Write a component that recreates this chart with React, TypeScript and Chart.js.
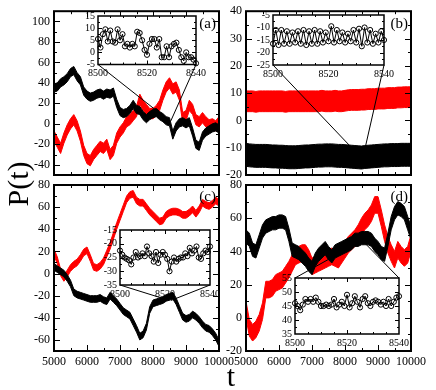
import React, { useEffect, useRef } from "react";
import { Chart, registerables } from "chart.js";
Chart.register(...registerables);

const FONT = "'Liberation Serif', 'Times New Roman', Times, serif";
const W = 436;
const H = 390;

// ---------- data ----------
const T = [
  5000, 5100, 5200, 5300, 5400, 5500, 5600, 5700, 5800, 5900,
  6000, 6100, 6200, 6300, 6400, 6500, 6600, 6700, 6800, 6900,
  7000, 7100, 7200, 7300, 7400, 7500, 7600, 7700, 7800, 7900,
  8000, 8100, 8200, 8300, 8400, 8500, 8600, 8700, 8800, 8900,
  9000, 9100, 9200, 9300, 9400, 9500, 9600, 9700, 9800, 9900, 10000,
];

const A_BLACK = [
  35, 36, 40, 42, 45, 50, 52, 46, 42, 32,
  28, 26, 27, 29, 30, 28, 30, 29, 31, 20,
  12, 10, 11, 14, 19, 14, 13, 8, 5, 8,
  10, 11, 8, 6, 3, 2, -11, -3, 1, 2,
  0, 2, -8, -20, -22, -12, -8, -6, -4, -3, -5,
];
const A_RED = [
  -12, -18, -24, -14, -6, 0, 4, -2, -12, -26,
  -34, -36, -30, -26, -22, -24, -20, -30, -26, -14,
  -8, -4, 2, 4, 8, 12, 24, 18, 14, 10,
  10, 13, 18, 28, 36, 40, 34, 36, 28, 6,
  8, 18, 14, 4, 2, 6, 2, -1, 0, -2, 2,
];
const B_RED = [
  7, 7, 7, 6.8, 7, 7, 7, 7, 7, 7,
  7, 7, 6.8, 7, 7, 7, 7, 7, 7, 7,
  7, 7, 7, 7.2, 7, 7, 7, 7.2, 7, 7,
  7.2, 7.4, 7.5, 7.5, 7.5, 7.6, 7.6, 7.8, 7.8, 7.8,
  8, 8, 8, 8.2, 8.2, 8.2, 8.4, 8.4, 8.5, 8.5, 8.5,
];
const B_BLACK = [
  -12.6, -12.8, -12.9, -13, -13, -13, -13, -13.1, -13.2, -13.2,
  -13.3, -13.3, -13.4, -13.5, -13.5, -13.5, -13.4, -13.3, -13.2, -13.2,
  -13.1, -13, -12.9, -12.9, -12.8, -12.8, -12.8, -12.9, -13, -13,
  -13.1, -13.2, -13.3, -13.4, -13.5, -13.6, -13.4, -13.3, -13.2, -13.1,
  -13, -12.9, -12.8, -12.8, -12.7, -12.7, -12.7, -12.6, -12.6, -12.6, -12.6,
];
const C_RED = [
  19, 12, 1, -4, 0, 5, 8, 10, 14, 19,
  21, 14, 6, 5, 7, 11, 18, 25, 34, 43,
  51, 59, 67, 71, 72, 66, 64, 64, 60, 56,
  53, 50, 47, 48, 53, 55, 56, 56, 55, 53,
  53, 55, 58, 54, 58, 64, 62, 61, 63, 66, 64,
];
const C_BLACK = [
  6, 4, 2, 0, -4, -9, -17, -19, -20, -21,
  -22, -23, -23, -23, -22, -24, -25, -20, -23, -26,
  -30, -34, -36, -38, -44, -50, -57, -55, -48, -33,
  -27, -26, -25, -24, -22, -21, -20, -25, -32, -39,
  -41, -40, -37, -39, -42, -46, -49, -50, -53, -57, -63,
];
const D_BLACK = [
  49, 47, 41, 40, 46, 52, 55, 56, 57, 57,
  58, 58, 57, 50, 41, 40, 39, 37, 35, 32,
  30, 35, 38, 40, 42, 39, 37, 40, 41, 42,
  43, 44, 45, 47, 47, 48, 48, 48, 47, 44,
  42, 39, 38, 47, 57, 63, 66, 65, 63, 57, 51,
];
const D_RED = [
  5, -6, -9, -7, -3, 4, 17, 17, 18, 21,
  22, 23, 26, 29, 33, 37, 38, 39, 39, 36,
  31, 32, 33, 34, 35, 36, 37, 36, 35, 38,
  41, 44, 46, 48, 51, 55, 58, 60, 63, 68,
  68, 60, 51, 44, 39, 35, 41, 38, 36, 38, 45,
];

const TI = [
  8500, 8501, 8502, 8503, 8504, 8505, 8506, 8507, 8508, 8509,
  8510, 8511, 8512, 8513, 8514, 8515, 8516, 8517, 8518, 8519,
  8520, 8521, 8522, 8523, 8524, 8525, 8526, 8527, 8528, 8529,
  8530, 8531, 8532, 8533, 8534, 8535, 8536, 8537, 8538, 8539, 8540,
];
const INSET_A = [
  5.5, 2, 7.5, 9.5, 4.5, 9, 4.5, 4, 9.5, 5,
  7.5, 2.5, 3.5, 2, 3.5, 2.5, 8.5, 8, 5, 1,
  -1, 3.5, 5.5, 5.5, 2, 5.5, -2, -2, 2.5, -2,
  2.5, 3.5, 4, 1, -2, -3.5, 0, -2, -2, -3, -4.5,
];
const INSET_B = [
  -16.5, -11, -17, -11, -16.5, -11.5, -16.5, -12, -16, -11.5,
  -16.5, -11, -17, -11.5, -16.5, -11, -16.5, -11.5, -16, -12,
  -15.5, -9.5, -16, -11, -15.5, -12, -16, -12.5, -15.5, -11,
  -16, -10.5, -17.5, -10, -16, -11, -16.5, -12.5, -16, -11.5, -15,
];
const INSET_C = [
  -22.5, -24, -25, -25.5, -26, -27.5, -25, -23, -25, -24.5,
  -23.5, -24.5, -21, -23.5, -24.5, -26.5, -23, -27, -24, -23,
  -24, -25.5, -30, -26.5, -25, -26.5, -25.5, -25, -25, -23.5,
  -24.5, -21.5, -23.5, -22.5, -21, -25, -25.5, -23.5, -22.5, -23, -21,
];
const INSET_D = [
  46, 45, 43.5, 45.5, 47.5, 46.5, 47.5, 46.5, 48, 46.5,
  45, 45, 45.5, 45, 45.5, 47.5, 44.5, 45.5, 46.5, 45,
  49, 44.5, 46, 48.5, 46.5, 44.5, 47.5, 48.5, 46, 45,
  46.5, 47, 46.5, 45.5, 46.5, 45, 47.5, 45, 46.5, 48, 48.5,
];

const X_TICKS = [5000, 6000, 7000, 8000, 9000, 10000];
const Y_TICKS_A = [-40, -20, 0, 20, 40, 60, 80, 100];
const Y_TICKS_B = [-20, -10, 0, 10, 20, 30, 40];
const Y_TICKS_C = [-60, -40, -20, 0, 20, 40, 60, 80];
const Y_TICKS_D = [-20, 0, 20, 40, 60, 80];
const INSET_X_TICKS = [8500, 8520, 8540];
const INSET_Y_TICKS_A = [-5, 0, 5, 10, 15];
const INSET_Y_TICKS_B = [-25, -20, -15, -10, -5];
const INSET_Y_TICKS_C = [-35, -30, -25, -20, -15];
const INSET_Y_TICKS_D = [35, 40, 45, 50, 55];

const BLACK = "#000000";
const RED = "#ff0000";

// ---------- layout ----------
type Box = { l: number; t: number; r: number; b: number };
type Series = { values: number[]; half: number; color: string };
type InsetSpec = {
  box: Box;
  values: number[];
  yMin: number;
  yMax: number;
  yTicks: number[];
  fromTop: boolean;
};
type PanelSpec = {
  box: Box;
  yMin: number;
  yMax: number;
  yTicks: number[];
  yMinor: number;
  showX: boolean;
  series: Series[];
  label: string;
  inset: InsetSpec;
};

const PANELS: PanelSpec[] = [
  {
    box: { l: 54, t: 10, r: 219, b: 175 },
    yMin: -50, yMax: 110, yTicks: Y_TICKS_A, yMinor: 10, showX: false,
    series: [
      { values: A_BLACK, half: 4, color: BLACK },
      { values: A_RED, half: 5, color: RED },
    ],
    label: "(a)",
    inset: { box: { l: 98, t: 16, r: 196, b: 64.5 }, values: INSET_A, yMin: -5, yMax: 15, yTicks: INSET_Y_TICKS_A, fromTop: false },
  },
  {
    box: { l: 246, t: 10, r: 411, b: 175 },
    yMin: -20, yMax: 40, yTicks: Y_TICKS_B, yMinor: 5, showX: false,
    series: [
      { values: B_BLACK, half: 4.2, color: BLACK },
      { values: B_RED, half: 3.8, color: RED },
    ],
    label: "(b)",
    inset: { box: { l: 273, t: 15, r: 384, b: 65 }, values: INSET_B, yMin: -25, yMax: -5, yTicks: INSET_Y_TICKS_B, fromTop: false },
  },
  {
    box: { l: 54, t: 185, r: 219, b: 351 },
    yMin: -70, yMax: 80, yTicks: Y_TICKS_C, yMinor: 10, showX: true,
    series: [
      { values: C_BLACK, half: 3, color: BLACK },
      { values: C_RED, half: 3, color: RED },
    ],
    label: "(c)",
    inset: { box: { l: 120, t: 230, r: 210, b: 285 }, values: INSET_C, yMin: -35, yMax: -15, yTicks: INSET_Y_TICKS_C, fromTop: false },
  },
  {
    box: { l: 246, t: 185, r: 411, b: 351 },
    yMin: -20, yMax: 80, yTicks: Y_TICKS_D, yMinor: 10, showX: true,
    series: [
      { values: D_BLACK, half: 4, color: BLACK },
      { values: D_RED, half: 5, color: RED },
    ],
    label: "(d)",
    inset: { box: { l: 295, t: 278, r: 399, b: 334 }, values: INSET_D, yMin: 35, yMax: 55, yTicks: INSET_Y_TICKS_D, fromTop: true },
  },
];

const mean = (a: number[]) => a.reduce((s, v) => s + v, 0) / a.length;

type FrameOpts = {
  white: boolean;
  frameWidth: number;
  xTicks: number[];
  xMinor: number;
  yTicks: number[];
  yMinor: number;
  majorLen: number;
  minorLen: number;
  label?: string;
  connectors?: { t: number; v: number; px: number; py: number }[];
};

function framePlugin(o: FrameOpts) {
  return {
    id: "frame",
    beforeDraw(chart: any) {
      if (!o.white) return;
      const { ctx, chartArea: ca } = chart;
      ctx.save();
      ctx.fillStyle = "#ffffff";
      ctx.fillRect(ca.left, ca.top, ca.right - ca.left, ca.bottom - ca.top);
      ctx.restore();
    },
    afterDatasetsDraw(chart: any) {
      const { ctx, chartArea: ca } = chart;
      const xs = chart.scales.x;
      const ys = chart.scales.y;
      ctx.save();
      ctx.strokeStyle = "#000";
      ctx.fillStyle = "#000";
      if (o.connectors) {
        ctx.lineWidth = 1;
        ctx.beginPath();
        for (const c of o.connectors) {
          ctx.moveTo(xs.getPixelForValue(c.t), ys.getPixelForValue(c.v));
          ctx.lineTo(c.px, c.py);
        }
        ctx.stroke();
      }
      ctx.lineWidth = 1;
      ctx.beginPath();
      const eps = 1e-6;
      for (let v = Math.ceil(xs.min / o.xMinor) * o.xMinor; v <= xs.max + eps; v += o.xMinor) {
        if (Math.abs(v - xs.min) < eps || Math.abs(v - xs.max) < eps) continue;
        const major = o.xTicks.some((t) => Math.abs(t - v) < eps);
        const len = major ? o.majorLen : o.minorLen;
        const px = Math.round(xs.getPixelForValue(v)) + 0.5;
        ctx.moveTo(px, ca.bottom);
        ctx.lineTo(px, ca.bottom - len);
        ctx.moveTo(px, ca.top);
        ctx.lineTo(px, ca.top + len);
      }
      for (let v = Math.ceil(ys.min / o.yMinor) * o.yMinor; v <= ys.max + eps; v += o.yMinor) {
        if (Math.abs(v - ys.min) < eps || Math.abs(v - ys.max) < eps) continue;
        const major = o.yTicks.some((t) => Math.abs(t - v) < eps);
        const len = major ? o.majorLen : o.minorLen;
        const py = Math.round(ys.getPixelForValue(v)) + 0.5;
        ctx.moveTo(ca.left, py);
        ctx.lineTo(ca.left + len, py);
        ctx.moveTo(ca.right, py);
        ctx.lineTo(ca.right - len, py);
      }
      ctx.stroke();
      ctx.lineWidth = o.frameWidth;
      ctx.strokeRect(ca.left, ca.top, ca.right - ca.left, ca.bottom - ca.top);
      if (o.label) {
        ctx.font = `15px ${FONT}`;
        ctx.textAlign = "right";
        ctx.textBaseline = "middle";
        ctx.fillText(o.label, ca.right - 3, ca.top + 12.5);
      }
      ctx.restore();
    },
  };
}

// axis box size is fixed so the plot area lands exactly where the layout wants it
function axis(min: number, max: number, ticks: number[], show: boolean, size: number, pad: number, horizontal: boolean, boxSize: number) {
  return {
    type: "linear",
    min,
    max,
    grid: { display: false, drawTicks: false },
    border: { display: false },
    ticks: {
      display: show,
      color: "#000",
      font: { family: FONT, size },
      padding: pad,
      maxRotation: 0,
      autoSkip: false,
      callback: (v: any) => String(v),
    },
    afterBuildTicks: (s: any) => {
      s.ticks = ticks.map((v) => ({ value: v }));
    },
    afterFit: (s: any) => {
      if (horizontal) s.height = boxSize;
      else s.width = boxSize;
    },
  };
}

const MAIN_Y_W = 44;
const MAIN_X_H = 24;
const INSET_Y_W = 26;
const INSET_X_H = 16;

function mainConfig(p: PanelSpec): any {
  const datasets: any[] = [];
  for (const s of p.series) {
    datasets.push({
      data: s.values.map((v, i) => ({ x: T[i], y: v - s.half })),
      borderColor: s.color, backgroundColor: s.color, borderWidth: 1,
      pointRadius: 0, fill: false, tension: 0,
    });
    datasets.push({
      data: s.values.map((v, i) => ({ x: T[i], y: v + s.half })),
      borderColor: s.color, backgroundColor: s.color, borderWidth: 1,
      pointRadius: 0, fill: "-1", tension: 0,
    });
  }
  const ib = p.inset.box;
  const m = mean(p.inset.values);
  const cy = p.inset.fromTop ? ib.t : ib.b;
  const xh = p.showX ? MAIN_X_H : 0;
  return {
    type: "line",
    data: { datasets },
    options: {
      animation: false,
      responsive: false,
      devicePixelRatio: 1,
      events: [],
      layout: { padding: { left: p.box.l - MAIN_Y_W, top: p.box.t, right: W - p.box.r, bottom: H - p.box.b - xh } },
      plugins: { legend: { display: false }, tooltip: { enabled: false } },
      scales: {
        x: axis(5000, 10000, X_TICKS, p.showX, 12, 4, true, xh),
        y: axis(p.yMin, p.yMax, p.yTicks, true, 12, 4, false, MAIN_Y_W),
      },
    },
    plugins: [
      framePlugin({
        white: false, frameWidth: 2,
        xTicks: X_TICKS, xMinor: 500, yTicks: p.yTicks, yMinor: p.yMinor,
        majorLen: 6, minorLen: 3, label: p.label,
        connectors: [
          { t: TI[0], v: m, px: ib.l, py: cy },
          { t: TI[TI.length - 1], v: m, px: ib.r, py: cy },
        ],
      }),
    ],
  };
}

function insetConfig(s: InsetSpec): any {
  return {
    type: "line",
    data: {
      datasets: [
        {
          data: s.values.map((v, i) => ({ x: TI[i], y: v })),
          borderColor: "#000", borderWidth: 1, tension: 0, fill: false,
          pointRadius: 2.6, pointBorderWidth: 1, pointBorderColor: "#000",
          pointBackgroundColor: "rgba(0,0,0,0)", clip: false,
        },
      ],
    },
    options: {
      animation: false,
      responsive: false,
      devicePixelRatio: 1,
      events: [],
      layout: { padding: { left: s.box.l - INSET_Y_W, top: s.box.t, right: W - s.box.r, bottom: H - s.box.b - INSET_X_H } },
      plugins: { legend: { display: false }, tooltip: { enabled: false } },
      scales: {
        x: axis(8500, 8540, INSET_X_TICKS, true, 10, 3, true, INSET_X_H),
        y: axis(s.yMin, s.yMax, s.yTicks, true, 10, 3, false, INSET_Y_W),
      },
    },
    plugins: [
      framePlugin({
        white: true, frameWidth: 1.5,
        xTicks: INSET_X_TICKS, xMinor: 5, yTicks: s.yTicks, yMinor: 2.5,
        majorLen: 4, minorLen: 2,
      }),
    ],
  };
}

function ChartCanvas({ make }: { make: () => any }) {
  const ref = useRef<HTMLCanvasElement | null>(null);
  useEffect(() => {
    if (!ref.current) return;
    const chart = new Chart(ref.current, make());
    return () => chart.destroy();
  }, []);
  return (
    <canvas
      ref={ref}
      width={W}
      height={H}
      style={{ position: "absolute", left: 0, top: 0, width: W, height: H }}
    />
  );
}

export default function App() {
  return (
    <div style={{ position: "absolute", left: 0, top: 0, width: W, height: H, background: "#fff", overflow: "hidden" }}>
      {PANELS.map((p, i) => (
        <ChartCanvas key={"m" + i} make={() => mainConfig(p)} />
      ))}
      {PANELS.map((p, i) => (
        <ChartCanvas key={"i" + i} make={() => insetConfig(p.inset)} />
      ))}
      <div
        style={{
          position: "absolute", left: 18 - 40, top: 184 - 15, width: 80, height: 30,
          lineHeight: "30px", textAlign: "center", fontFamily: FONT, fontSize: 30,
          transform: "rotate(-90deg)", color: "#000",
        }}
      >
        P(t)
      </div>
      <div
        style={{
          position: "absolute", left: 231 - 20, top: 361, width: 40, height: 30,
          lineHeight: "30px", textAlign: "center", fontFamily: FONT, fontSize: 30, color: "#000",
        }}
      >
        t
      </div>
    </div>
  );
}
